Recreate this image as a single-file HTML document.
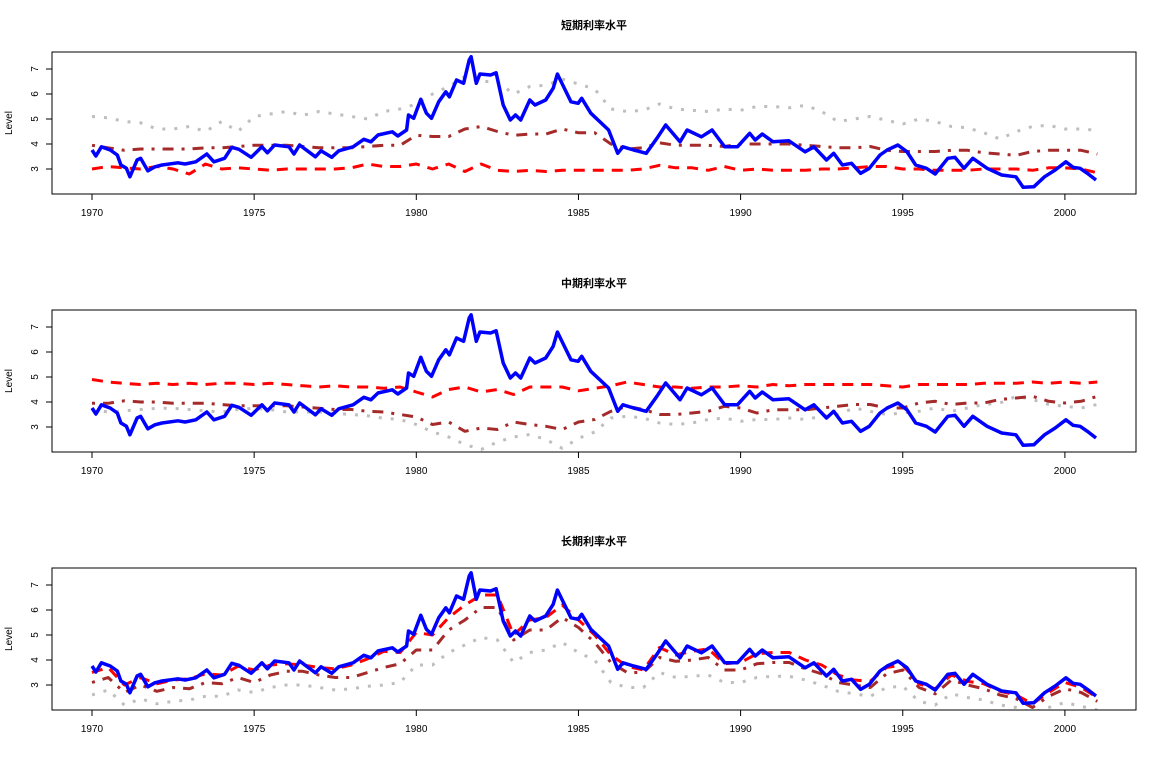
<!DOCTYPE html>
<html><head><meta charset="utf-8"><style>
html,body{margin:0;padding:0;background:#fff;}
svg text{font-family:"Liberation Sans","Noto Sans CJK SC",sans-serif;}
</style></head><body>
<svg id="chart" width="1163" height="775" xmlns="http://www.w3.org/2000/svg"></svg>
<script>
const halfYears = [];
for (let i = 0; i <= 62; i++) halfYears.push(1970 + i * 0.5);
const xTicks = [1970, 1975, 1980, 1985, 1990, 1995, 2000];
const yTicks = [3, 4, 5, 6, 7];
const panelTitles = ["短期利率水平", "中期利率水平", "长期利率水平"];

const blueDates = [1970.0,1970.12,1970.29,1970.56,1970.78,1970.89,1971.06,1971.17,1971.39,1971.5,1971.72,1971.94,1972.16,1972.65,1972.87,1973.2,1973.54,1973.76,1974.09,1974.31,1974.53,1974.91,1975.24,1975.41,1975.63,1976.07,1976.23,1976.4,1976.89,1977.06,1977.39,1977.61,1978.05,1978.38,1978.6,1978.82,1979.26,1979.43,1979.7,1979.76,1979.92,1980.14,1980.31,1980.47,1980.69,1980.91,1981.02,1981.24,1981.46,1981.63,1981.69,1981.85,1981.96,1982.29,1982.46,1982.68,1982.9,1983.06,1983.22,1983.5,1983.66,1983.99,1984.22,1984.35,1984.49,1984.77,1984.99,1985.1,1985.38,1985.93,1986.21,1986.37,1986.7,1987.09,1987.42,1987.69,1988.13,1988.35,1988.79,1989.12,1989.51,1989.9,1990.28,1990.45,1990.67,1991.0,1991.49,1991.99,1992.26,1992.65,1992.87,1993.14,1993.42,1993.7,1993.97,1994.3,1994.52,1994.85,1995.13,1995.4,1995.73,1996.0,1996.39,1996.61,1996.89,1997.16,1997.6,1998.05,1998.49,1998.71,1999.04,1999.37,1999.7,2000.03,2000.25,2000.47,2000.69,2000.96];
const blueValues = [3.76,3.52,3.89,3.76,3.56,3.16,3.03,2.69,3.36,3.43,2.93,3.09,3.16,3.25,3.2,3.29,3.6,3.29,3.43,3.87,3.79,3.47,3.89,3.65,3.96,3.89,3.6,3.96,3.49,3.73,3.47,3.73,3.89,4.19,4.09,4.36,4.49,4.32,4.56,5.16,5.03,5.79,5.23,5.03,5.69,6.09,5.89,6.56,6.43,7.36,7.49,6.43,6.8,6.76,6.85,5.56,4.96,5.16,4.96,5.76,5.56,5.76,6.23,6.8,6.43,5.69,5.63,5.83,5.23,4.56,3.63,3.89,3.76,3.63,4.23,4.76,4.09,4.56,4.29,4.56,3.89,3.89,4.43,4.16,4.4,4.09,4.13,3.69,3.89,3.36,3.63,3.16,3.23,2.83,3.03,3.56,3.76,3.96,3.69,3.16,3.03,2.8,3.43,3.47,3.03,3.43,3.03,2.76,2.69,2.27,2.29,2.69,2.96,3.29,3.07,3.03,2.83,2.56];

const red1 = [3.0,3.1,3.05,3.0,3.1,3.0,2.8,3.2,3.0,3.05,3.0,2.95,3.0,3.0,3.0,3.0,3.05,3.2,3.1,3.1,3.2,3.0,3.2,2.9,3.2,2.95,2.9,2.95,2.9,2.95,2.95,2.95,2.95,2.95,3.0,3.15,3.05,3.05,2.95,3.1,2.95,3.0,2.95,2.95,2.95,3.0,3.0,3.05,3.1,3.1,3.0,3.0,2.95,2.95,2.95,3.0,3.0,3.0,2.95,3.05,3.05,3.0,2.85];
const brown1 = [3.95,3.85,3.75,3.8,3.8,3.8,3.8,3.85,3.85,3.9,3.95,3.95,3.95,3.9,3.85,3.85,3.85,3.9,3.95,3.95,4.35,4.3,4.3,4.6,4.7,4.5,4.35,4.4,4.4,4.6,4.45,4.45,4.0,3.8,3.85,4.05,3.95,3.95,3.95,3.9,4.0,4.0,4.0,4.0,3.95,3.9,3.85,3.85,3.9,3.75,3.7,3.7,3.7,3.75,3.75,3.65,3.6,3.55,3.7,3.75,3.75,3.75,3.6];
const grey1 = [5.1,5.05,4.9,4.85,4.6,4.6,4.7,4.5,4.9,4.5,5.1,5.2,5.3,5.15,5.3,5.2,5.1,5.0,5.3,5.4,5.6,6.0,6.3,6.7,6.5,6.5,6.0,6.3,6.35,6.6,6.4,6.2,5.4,5.3,5.35,5.6,5.4,5.35,5.3,5.4,5.35,5.5,5.5,5.45,5.55,5.3,4.9,5.0,5.1,4.95,4.8,5.0,4.9,4.7,4.65,4.45,4.2,4.5,4.7,4.75,4.6,4.6,4.55];

const red2 = [4.9,4.8,4.75,4.7,4.75,4.7,4.75,4.7,4.75,4.75,4.7,4.75,4.7,4.65,4.6,4.65,4.6,4.6,4.55,4.6,4.4,4.2,4.5,4.6,4.4,4.5,4.3,4.6,4.6,4.6,4.45,4.55,4.65,4.8,4.7,4.6,4.6,4.55,4.6,4.6,4.65,4.6,4.7,4.65,4.7,4.7,4.7,4.7,4.7,4.65,4.6,4.7,4.7,4.7,4.7,4.75,4.75,4.75,4.8,4.75,4.8,4.75,4.8];
const brown2 = [3.95,3.95,4.05,4.0,4.0,3.95,3.95,3.95,3.9,3.85,3.85,3.85,3.85,3.8,3.75,3.7,3.7,3.63,3.6,3.5,3.4,3.1,3.2,2.83,2.96,2.9,3.2,3.1,3.03,2.9,3.2,3.3,3.63,3.83,3.7,3.5,3.5,3.56,3.63,3.83,3.76,3.56,3.69,3.69,3.69,3.76,3.83,3.9,3.9,3.76,3.76,3.96,4.03,3.9,3.96,3.96,4.1,4.16,4.23,4.03,3.96,4.03,4.23];
const grey2 = [3.7,3.6,3.65,3.7,3.75,3.75,3.7,3.65,3.6,3.7,3.75,3.7,3.6,3.6,3.6,3.55,3.5,3.45,3.35,3.3,3.1,2.8,2.6,2.3,2.1,2.4,2.6,2.7,2.5,2.15,2.55,2.8,3.36,3.43,3.36,3.16,3.1,3.16,3.3,3.36,3.23,3.3,3.3,3.36,3.3,3.43,3.5,3.76,3.63,3.5,3.56,3.63,3.76,3.63,3.76,3.9,3.96,4.23,4.1,3.9,3.83,3.76,3.9];

const red3 = [3.5,3.7,3.0,3.3,3.05,3.2,3.25,3.45,3.4,3.75,3.6,3.8,3.85,3.8,3.7,3.65,3.8,4.05,4.35,4.3,5.1,5.0,5.7,6.2,6.6,6.6,5.0,5.6,5.7,6.2,5.6,5.0,4.2,3.75,3.6,4.5,4.2,4.35,4.45,3.85,3.9,4.25,4.3,4.3,4.0,3.8,3.4,3.2,3.15,3.7,3.8,3.05,2.85,3.4,3.15,3.05,2.75,2.6,2.25,2.7,3.1,2.9,2.5];
const brown3 = [3.1,3.3,2.7,3.0,2.75,2.9,2.85,3.1,3.05,3.3,3.1,3.4,3.55,3.55,3.4,3.3,3.3,3.5,3.7,3.85,4.4,4.4,5.2,5.6,6.1,6.1,4.8,5.2,5.2,5.7,5.3,4.7,3.9,3.5,3.5,4.1,3.95,4.0,4.1,3.6,3.6,3.85,3.9,3.9,3.65,3.45,3.1,3.0,2.9,3.45,3.6,2.9,2.65,3.2,3.0,2.85,2.6,2.45,2.1,2.55,2.85,2.7,2.35];
const grey3 = [2.6,2.8,2.2,2.45,2.25,2.35,2.4,2.55,2.55,2.8,2.7,2.9,3.0,3.0,2.9,2.8,2.85,2.95,3.0,3.1,3.8,3.8,4.3,4.6,4.9,4.8,3.9,4.3,4.4,4.7,4.3,4.0,3.1,2.9,2.9,3.5,3.3,3.35,3.4,3.1,3.1,3.3,3.35,3.35,3.2,3.0,2.75,2.65,2.55,2.9,2.95,2.35,2.2,2.65,2.5,2.4,2.2,2.1,1.9,2.1,2.3,2.15,2.0];

const NS = "http://www.w3.org/2000/svg";
const svg = document.getElementById("chart");
const X0 = 52, X1 = 1136, H = 142;
const panelTops = [52, 310, 568];
function xScale(yr) { return 92 + (yr - 1970) * 32.43; }
function yScale(top, v) { return top + 17 + (7 - v) * 25; }
function mk(tag, attrs, parent) {
  const e = document.createElementNS(NS, tag);
  for (const k in attrs) e.setAttribute(k, attrs[k]);
  (parent || svg).appendChild(e);
  return e;
}
const defs = mk("defs", {});

const seriesSets = [
  [grey1, brown1, red1],
  [grey2, brown2, red2],
  [grey3, brown3, red3]
];
const styles = [
  {name:"grey", color:"#bebebe", dash:"3,9", w:3},
  {name:"brown", color:"#a52a2a", dash:"3,8,11,8", w:3},
  {name:"red", color:"#ff0000", dash:"11,8", w:3}
];

panelTitles.forEach((title, p) => {
  const top = panelTops[p];
  const g = mk("g", {});
  
  
  const cp = mk("clipPath", {id: "clip" + p}, defs);
  mk("rect", {x: X0, y: top, width: X1 - X0, height: H}, cp);

  const t = mk("text", {x: 594, y: top - 23, "text-anchor": "middle", "font-size": 11, "font-weight": "bold"}, g);
  t.textContent = title;
  
  

  const yl = mk("text", {x: 0, y: 0, "text-anchor": "middle", "font-size": 10, transform: `translate(12,${top + 71}) rotate(-90)`}, g);
  yl.textContent = "Level";
  
  

  const yAxis = mk("g", {}, g);
  
  
  mk("line", {x1: X0, x2: X0, y1: yScale(top, 7), y2: yScale(top, 3), stroke: "#000"}, yAxis);
  yTicks.forEach(v => {
    const y = yScale(top, v);
    mk("line", {x1: X0 - 6, x2: X0, y1: y, y2: y, stroke: "#000"}, yAxis);
    const tl = mk("text", {x: 0, y: 0, "text-anchor": "middle", "font-size": 10, transform: `translate(38,${y}) rotate(-90)`}, yAxis);
    tl.textContent = v;
    
    
  });

  const xAxis = mk("g", {}, g);
  
  
  const bot = top + H;
  mk("line", {x1: xScale(1970), x2: xScale(2000), y1: bot, y2: bot, stroke: "#000"}, xAxis);
  xTicks.forEach(yr => {
    const x = xScale(yr);
    mk("line", {x1: x, x2: x, y1: bot, y2: bot + 6, stroke: "#000"}, xAxis);
    const tl = mk("text", {x: x, y: bot + 22, "text-anchor": "middle", "font-size": 10}, xAxis);
    tl.textContent = yr;
    
    
  });

  const lines = mk("g", {"clip-path": `url(#clip${p})`}, g);
  seriesSets[p].forEach((vals, s) => {
    const st = styles[s];
    const d = vals.map((v, i) => (i ? "L" : "M") + xScale(halfYears[i]).toFixed(1) + "," + yScale(top, v).toFixed(1)).join("");
    const path = mk("path", {d: d, fill: "none", stroke: st.color, "stroke-width": st.w, "stroke-dasharray": st.dash, "stroke-linejoin": "round"}, lines);
    
    
  });
  const bd = blueValues.map((v, i) => (i ? "L" : "M") + xScale(blueDates[i]).toFixed(1) + "," + yScale(top, v).toFixed(1)).join("");
  const bp = mk("path", {d: bd, fill: "none", stroke: "#0000ff", "stroke-width": 3.5, "stroke-linejoin": "round"}, lines);
  
  

  const box = mk("rect", {x: X0, y: top, width: X1 - X0, height: H, fill: "none", stroke: "#000", "stroke-width": 1}, g);
  
  
});
</script>
</body></html>
